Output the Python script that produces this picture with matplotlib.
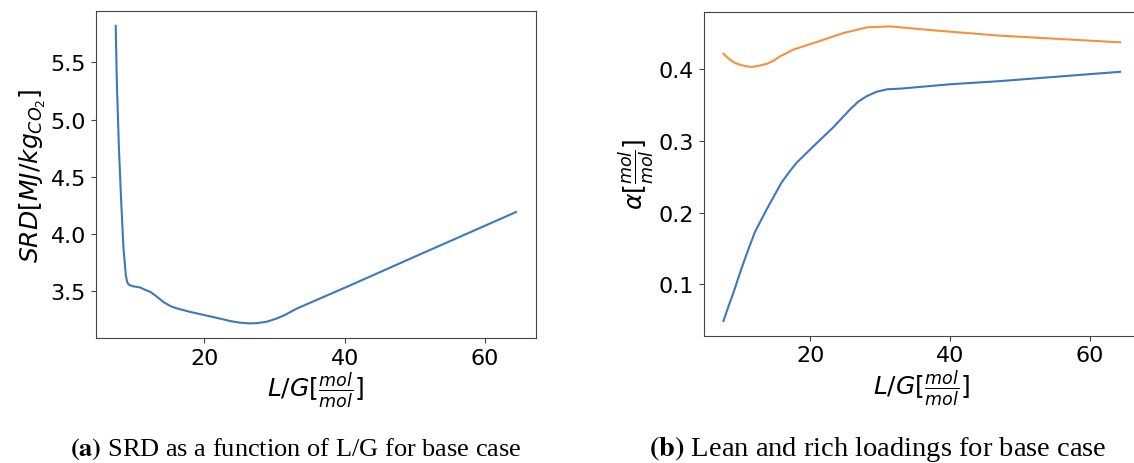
import matplotlib
matplotlib.use("Agg")
import matplotlib.pyplot as plt

# SRD vs L/G
lg_srd = [7.35, 7.5, 7.8, 8.1, 8.45, 8.8, 9.0, 9.2, 9.4, 9.8, 10.8, 11.5, 12.3, 13.2,
          14.2, 15.2, 16.1, 18.0, 20.4, 22.0, 23.7, 25.0, 26.3, 27.5, 28.9, 30.3,
          31.5, 33.2, 40.8, 50.0, 64.4]
srd = [5.82, 5.34, 4.76, 4.32, 3.88, 3.63, 3.575, 3.555, 3.549, 3.54, 3.53, 3.51, 3.49, 3.45,
       3.40, 3.365, 3.346, 3.315, 3.282, 3.26, 3.235, 3.222, 3.215, 3.217, 3.23, 3.258,
       3.29, 3.346, 3.549, 3.80, 4.19]

# lean loading (blue)
lg_lean = [7.6, 8.3, 9.05, 9.75, 10.5, 11.2, 12.1, 13.8, 15.9, 17.1, 18.1, 20.5, 23.3,
           25.7, 26.9, 28.1, 29.5, 31.0, 33.0, 40.0, 47.1, 64.3]
lean = [0.049, 0.069, 0.089, 0.110, 0.131, 0.150, 0.173, 0.205, 0.242, 0.258, 0.270, 0.293, 0.319,
        0.344, 0.355, 0.3625, 0.3686, 0.372, 0.373, 0.379, 0.3834, 0.3964]

# rich loading (orange)
lg_rich = [7.6, 8.3, 9.05, 10.0, 11.0, 11.7, 12.5, 13.8, 14.8, 15.7, 17.6, 20.95,
           24.8, 28.1, 31.4, 37.6, 47.1, 64.3]
rich = [0.4214, 0.415, 0.4097, 0.406, 0.4038, 0.4033, 0.4045, 0.4075, 0.412, 0.418, 0.4274, 0.438,
        0.4506, 0.4583, 0.4597, 0.4542, 0.4468, 0.4375]

blue = "#3d79ba"
orange = "#f6913d"

fig = plt.figure(figsize=(11.34, 4.64), dpi=100)

ax1 = fig.add_axes([0.0844, 0.2688, 0.3883, 0.7054])
ax1.plot(lg_srd, srd, color=blue, lw=1.5)
ax1.set_xticks([20, 40, 60])
ax1.set_yticks([3.5, 4.0, 4.5, 5.0, 5.5])
ax1.set_xlabel(r"$L/G[\frac{mol}{mol}]$", fontsize=18, labelpad=1)
ax1.set_ylabel(r"$SRD[MJ/kg_{CO_2}]$", fontsize=18, labelpad=2)

ax2 = fig.add_axes([0.6205, 0.2744, 0.3847, 0.6983])
ax2.plot(lg_lean, lean, color=blue, lw=1.5)
ax2.plot(lg_rich, rich, color=orange, lw=1.5)
ax2.set_xticks([20, 40, 60])
ax2.set_yticks([0.1, 0.2, 0.3, 0.4])
ax2.set_xlabel(r"$L/G[\frac{mol}{mol}]$", fontsize=18, labelpad=1)
ax2.set_ylabel(r"$\alpha[\frac{mol}{mol}]$", fontsize=18, labelpad=2)

for ax in (ax1, ax2):
    ax.tick_params(labelsize=16, color="#444444")
    for s in ax.spines.values():
        s.set_color("#444444")

fig.text(296 / 1134, 1 - 449 / 464, r"$\mathbf{(a)}$ SRD as a function of L/G for base case",
         ha="center", va="center", fontsize=19, family="Liberation Serif", math_fontfamily="stix")
fig.text(878 / 1134, 1 - 449 / 464, r"$\mathbf{(b)}$ Lean and rich loadings for base case",
         ha="center", va="center", fontsize=20.5, family="Liberation Serif", math_fontfamily="stix")

fig.savefig("out.png", dpi=100)
